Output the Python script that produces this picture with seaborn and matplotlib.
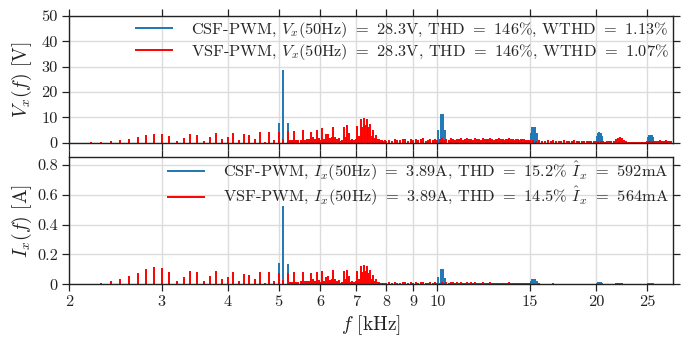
import numpy as np
import matplotlib
matplotlib.use("Agg")
import matplotlib.pyplot as plt
from matplotlib.ticker import FixedLocator, NullLocator, FuncFormatter
import seaborn as sns


# harmonic frequency grids [kHz]
freq_a = np.round(np.arange(2.2, 5.25, 0.1), 2)    # 100 Hz comb
freq_b = np.round(np.arange(5.25, 8.01, 0.05), 2)  # 50 Hz comb
freq_c = np.round(np.arange(8.1, 15.05, 0.1), 2)
freq_d = np.round(np.arange(15.2, 27.85, 0.2), 2)
vsf_freq = np.concatenate([freq_a, freq_b, freq_c, freq_d])

# VSF-PWM voltage spectrum [V]
vsf_v_a = [0.1, 0.3, 0.5, 0.9, 1.4, 2.2, 2.9, 3.5, 3.5, 2.6,
           0.8, 1.7, 3.4, 3.0, 0.8, 2.2, 3.7, 1.6, 2.2, 3.8,
           0.9, 3.3, 3.2, 1.6, 4.2, 0.3, 4.2, 1.0, 4.3, 1.6, 4.5]
vsf_v_b = [0.9, 1.0, 4.7, 0.9, 1.0, 1.2, 4.9, 1.1, 1.5, 1.3,
           4.4, 2.3, 1.5, 4.9, 2.0, 1.0, 5.6, 1.4, 3.3, 3.5,
           1.9, 2.2, 6.3, 2.3, 1.4, 2.0, 0.8, 1.1, 6.2, 2.4,
           7.0, 4.0, 1.2, 1.5, 1.1, 1.6, 6.4, 2.5, 9.2, 6.0,
           9.8, 7.0, 9.2, 6.0, 7.4, 2.6, 5.0, 2.0, 3.0, 1.3,
           1.5, 0.9, 1.0, 0.6, 0.9, 0.8]
vsf_v_c = [1.2, 0.7, 1.5, 1.1, 0.9, 1.6, 1.3, 0.8, 1.4, 1.0,
           1.5, 0.9, 1.3, 1.7, 0.8, 1.2, 1.6, 1.0, 1.4, 1.1,
           1.3, 1.7, 1.2, 1.5, 0.9, 1.8, 1.4, 1.1, 1.6, 1.3,
           1.7, 1.2, 1.5, 1.9, 1.3, 1.6, 1.1, 1.8, 1.4, 1.5,
           1.2, 1.7, 1.4, 1.6, 1.3, 1.8, 1.5, 1.2, 1.6, 1.4,
           1.7, 1.3, 1.5, 1.2, 1.6, 1.4, 1.8, 1.3, 1.5, 1.1,
           1.4, 1.6, 1.2, 1.5, 1.3, 1.4, 1.0, 1.2, 0.9, 1.0]
vsf_v_d = [0.9, 0.7, 1.0, 0.8, 0.6, 0.9, 0.7, 1.0, 0.8, 0.6,
           0.8, 0.9, 0.6, 0.8, 0.7, 0.9, 0.6, 0.8, 0.7, 0.6,
           0.8, 0.6, 0.7, 0.5, 0.6, 0.7, 0.5, 0.6, 0.4, 0.5,
           0.5, 0.6, 0.8, 1.4, 1.9, 2.1, 1.7, 1.1, 0.6, 0.3,
           0.2, 0.2, 0.3, 0.2, 0.2, 0.3, 0.2, 0.3, 0.4, 0.5,
           0.6, 0.5, 0.7, 0.6, 0.8, 0.7, 0.9, 0.6, 0.8, 0.7,
           0.9, 0.7, 0.8, 0.6]

# VSF-PWM current spectrum [A]
vsf_i_a = [0.004, 0.010, 0.020, 0.036, 0.054, 0.078, 0.100, 0.116, 0.112, 0.083,
           0.022, 0.047, 0.090, 0.083, 0.022, 0.058, 0.087, 0.038, 0.051, 0.085,
           0.020, 0.069, 0.065, 0.034, 0.083, 0.006, 0.083, 0.025, 0.078, 0.030, 0.078]
vsf_i_b = [0.016, 0.018, 0.084, 0.016, 0.018, 0.021, 0.084, 0.019, 0.025, 0.022,
           0.073, 0.038, 0.024, 0.079, 0.032, 0.016, 0.088, 0.022, 0.051, 0.054,
           0.029, 0.033, 0.095, 0.034, 0.021, 0.029, 0.012, 0.016, 0.089, 0.034,
           0.099, 0.056, 0.017, 0.021, 0.015, 0.022, 0.087, 0.034, 0.123, 0.080,
           0.129, 0.092, 0.120, 0.077, 0.095, 0.033, 0.063, 0.025, 0.037, 0.016,
           0.018, 0.011, 0.012, 0.007, 0.011, 0.010]
vsf_i_c = [0.014, 0.008, 0.017, 0.012, 0.010, 0.018, 0.015, 0.009, 0.016, 0.011,
           0.015, 0.009, 0.013, 0.017, 0.008, 0.012, 0.016, 0.010, 0.014, 0.011,
           0.012, 0.015, 0.011, 0.014, 0.008, 0.016, 0.013, 0.010, 0.015, 0.012,
           0.014, 0.010, 0.012, 0.016, 0.011, 0.013, 0.009, 0.015, 0.012, 0.012,
           0.009, 0.013, 0.011, 0.012, 0.010, 0.014, 0.011, 0.009, 0.012, 0.011,
           0.012, 0.009, 0.011, 0.008, 0.011, 0.010, 0.013, 0.009, 0.011, 0.008,
           0.009, 0.011, 0.008, 0.010, 0.009, 0.009, 0.007, 0.008, 0.006, 0.007]
vsf_i_d = [0.005, 0.004, 0.006, 0.005, 0.004, 0.005, 0.004, 0.006, 0.005, 0.003,
           0.004, 0.005, 0.003, 0.004, 0.004, 0.005, 0.003, 0.004, 0.004, 0.003,
           0.004, 0.003, 0.003, 0.002, 0.003, 0.003, 0.002, 0.003, 0.002, 0.002,
           0.002, 0.003, 0.004, 0.006, 0.008, 0.009, 0.007, 0.005, 0.003, 0.001,
           0.001, 0.001, 0.001, 0.001, 0.001, 0.001, 0.001, 0.001, 0.002, 0.002,
           0.002, 0.002, 0.003, 0.002, 0.003, 0.003, 0.003, 0.002, 0.003, 0.003,
           0.003, 0.002, 0.003, 0.002]

vsf_v = np.concatenate([vsf_v_a, vsf_v_b, vsf_v_c, vsf_v_d])
vsf_i = np.concatenate([vsf_i_a, vsf_i_b, vsf_i_c, vsf_i_d])

# CSF-PWM: sideband clusters around multiples of the switching frequency
csf_freq = [5.0, 5.1, 5.2,
            10.05, 10.15, 10.25, 10.35,
            15.05, 15.15, 15.25, 15.35, 15.45,
            20.05, 20.15, 20.25, 20.35, 20.45, 20.55,
            25.15, 25.25, 25.35, 25.45, 25.55, 25.65]
csf_v = [7.8, 28.6, 7.8,
         4.9, 11.2, 11.2, 4.9,
         3.7, 6.2, 6.2, 6.2, 3.7,
         2.6, 4.0, 4.1, 4.0, 3.9, 2.6,
         2.2, 2.9, 2.9, 2.9, 2.9, 2.2]
csf_i = [0.143, 0.526, 0.139,
         0.046, 0.103, 0.103, 0.045,
         0.022, 0.036, 0.036, 0.036, 0.022,
         0.011, 0.016, 0.016, 0.016, 0.015, 0.011,
         0.007, 0.009, 0.009, 0.009, 0.009, 0.007]

XTICKS = [2, 3, 4, 5, 6, 7, 8, 9, 10, 15, 20, 25]

CSF_COLOR = "#1f77b4"
VSF_COLOR = "#ff0000"
INK = "#222222"

sns.set_style("whitegrid")
plt.rcParams.update({
    "font.family": "serif",
    "font.serif": ["cmr10"],
    "mathtext.fontset": "cm",
    "axes.unicode_minus": False,
    "axes.formatter.use_mathtext": True,
})


def spectrum_panel(ax, csf_y, vsf_y, labels, ylim, yticks, ylabel, leg_anchor):
    ax.vlines(csf_freq, 0, csf_y, color=CSF_COLOR, linewidth=1.4, label=labels[0])
    ax.vlines(vsf_freq, 0, vsf_y, color=VSF_COLOR, linewidth=1.4, label=labels[1])

    ax.set_xscale("log")
    ax.set_xlim(2, 28)
    ax.xaxis.set_major_locator(FixedLocator(XTICKS))
    ax.xaxis.set_minor_locator(NullLocator())
    ax.xaxis.set_major_formatter(FuncFormatter(lambda v, _: f"{v:g}"))

    ax.set_ylim(ylim)
    ax.set_yticks(yticks)
    ax.yaxis.set_major_formatter(FuncFormatter(lambda v, _: f"{v:g}"))
    ax.set_ylabel(ylabel, fontsize=14, color=INK)
    ax.yaxis.set_label_coords(-0.058, 0.5)

    ax.grid(True, color="#dcdcdc", linewidth=1.0)
    ax.set_axisbelow(True)
    for s in ax.spines.values():
        s.set_edgecolor(INK)
        s.set_linewidth(1.0)
    ax.tick_params(which="major", direction="out", length=5, width=0.9,
                   color=INK, labelcolor=INK, labelsize=11.8,
                   top=True, right=True, bottom=True, left=True, pad=3)

    ax.legend(loc="upper right", bbox_to_anchor=leg_anchor, frameon=False,
              fontsize=11.8, handlelength=2.3, handletextpad=1.1,
              labelspacing=0.12, borderaxespad=0.0, borderpad=0.25)


fig = plt.figure(figsize=(6.89, 3.37), dpi=100)
ax_v = fig.add_axes([0.1001, 0.5766, 0.8767, 0.3759])
ax_i = fig.add_axes([0.1001, 0.1564, 0.8767, 0.3768], sharex=ax_v)

spectrum_panel(
    ax_v, csf_v, vsf_v,
    [r"CSF-PWM, $V_x(50\mathrm{Hz})$ $=$ 28.3V, THD $=$ 146%, WTHD $=$ 1.13%",
     r"VSF-PWM, $V_x(50\mathrm{Hz})$ $=$ 28.3V, THD $=$ 146%, WTHD $=$ 1.07%"],
    (0, 50), [0, 10, 20, 30, 40, 50], r"$V_x(f)$ [V]", (1.0, 1.0))
spectrum_panel(
    ax_i, csf_i, vsf_i,
    [r"CSF-PWM, $I_x(50\mathrm{Hz})$ $=$ 3.89A, THD $=$ 15.2% $\hat{I}_x$ $=$ 592mA",
     r"VSF-PWM, $I_x(50\mathrm{Hz})$ $=$ 3.89A, THD $=$ 14.5% $\hat{I}_x$ $=$ 564mA"],
    (0, 0.85), [0, 0.2, 0.4, 0.6, 0.8], r"$I_x(f)$ [A]", (1.0, 1.015))

ax_v.tick_params(labelbottom=False)
ax_i.set_xlabel(r"$f$ [kHz]", fontsize=14, color=INK, labelpad=3)

fig.savefig("out.png", dpi=100)
